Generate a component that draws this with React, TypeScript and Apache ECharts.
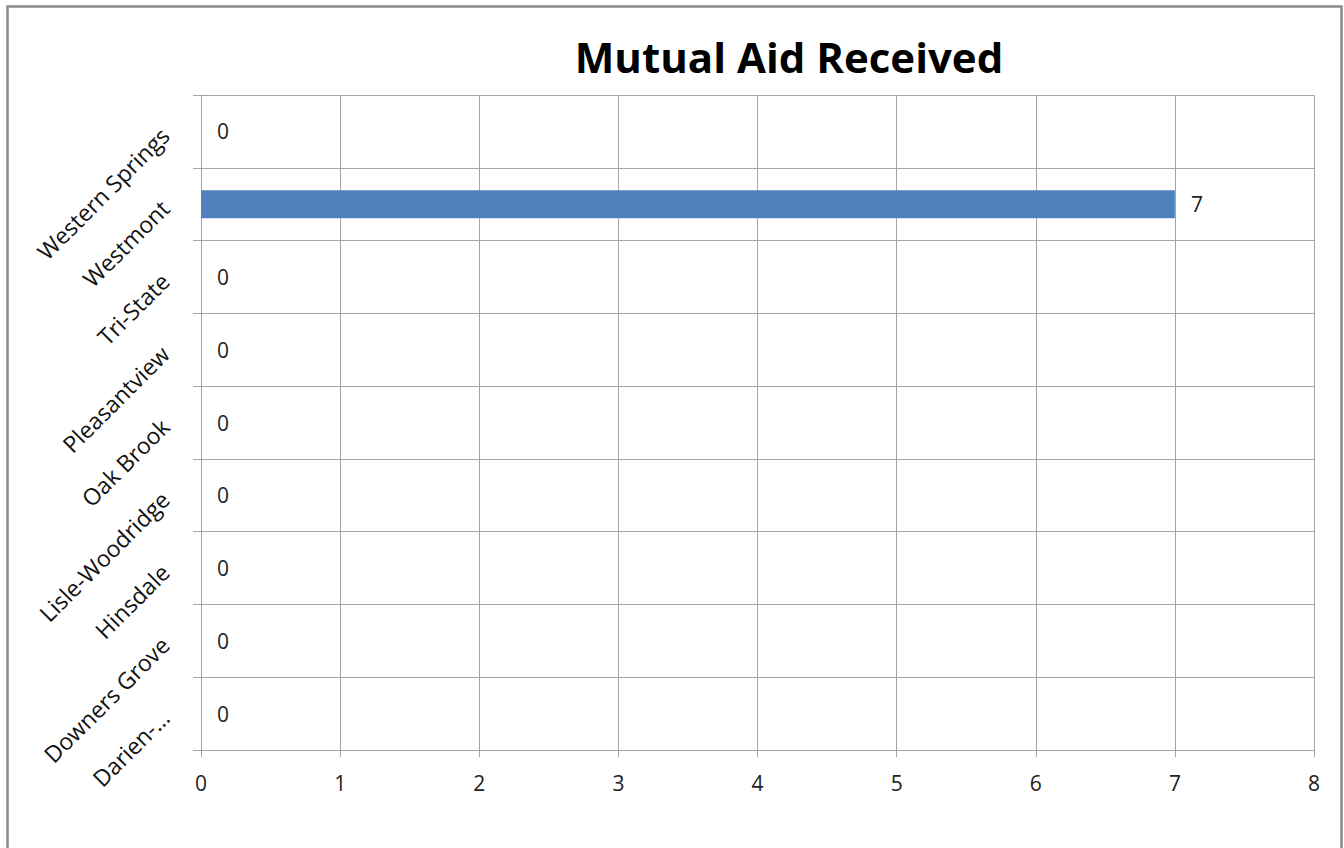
import React, { useEffect, useRef } from "react";
import * as echarts from "echarts";

const categories = [
  "Darien-…",
  "Downers Grove",
  "Hinsdale",
  "Lisle-Woodridge",
  "Oak Brook",
  "Pleasantview",
  "Tri-State",
  "Westmont",
  "Western Springs",
];
const values = [0, 0, 0, 0, 0, 0, 0, 7, 0];
const title = "Mutual Aid Received";
const xMin = 0;
const xMax = 8;
const xInterval = 1;

const FONT = "'Open Sans', 'Noto Sans', sans-serif";
const GRID = "#a6a6a6";

export default function App() {
  const ref = useRef<HTMLDivElement>(null);
  useEffect(() => {
    if (!ref.current) return;
    const chart = echarts.init(ref.current, undefined, { renderer: "svg" });
    chart.setOption({
      animation: false,
      backgroundColor: "#ffffff",
      title: {
        text: title,
        left: 784,
        top: 30,
        textAlign: "center",
        textStyle: { fontFamily: FONT, fontWeight: "bold", fontSize: 42, color: "#000" },
      },
      graphic: [
        {
          type: "rect",
          shape: { x: 7.5, y: 6.5, width: 1334, height: 860 },
          style: { fill: "none", stroke: "#8a8a8a", lineWidth: 2.5 },
          silent: true,
        },
      ],
      grid: { left: 201, right: 30, top: 95, bottom: 98, containLabel: false },
      xAxis: {
        type: "value",
        min: xMin,
        max: xMax,
        interval: xInterval,
        axisLine: { show: true, lineStyle: { color: GRID, width: 1 } },
        axisTick: { show: true, length: 7, lineStyle: { color: GRID } },
        splitLine: { show: true, lineStyle: { color: GRID, width: 1 } },
        axisLabel: { fontFamily: FONT, fontSize: 21, color: "#222", margin: 22 },
      },
      yAxis: {
        type: "category",
        data: categories,
        axisLine: { show: true, lineStyle: { color: GRID, width: 1 } },
        axisTick: { show: true, length: 8, lineStyle: { color: GRID } },
        splitLine: { show: true, lineStyle: { color: GRID, width: 1 } },
        axisLabel: {
          fontFamily: FONT,
          fontSize: 23,
          color: "#111",
          rotate: 45,
          margin: 36,
        },
      },
      series: [
        {
          type: "bar",
          data: values,
          barWidth: 28,
          itemStyle: { color: "#4f81bd" },
          label: {
            show: true,
            position: "right",
            distance: 16,
            fontFamily: FONT,
            fontSize: 21,
            color: "#222",
          },
        },
      ],
    });
    return () => chart.dispose();
  }, []);
  return (
    <div
      ref={ref}
      style={{ position: "fixed", left: 0, top: 0, width: 1344, height: 848 }}
    />
  );
}
